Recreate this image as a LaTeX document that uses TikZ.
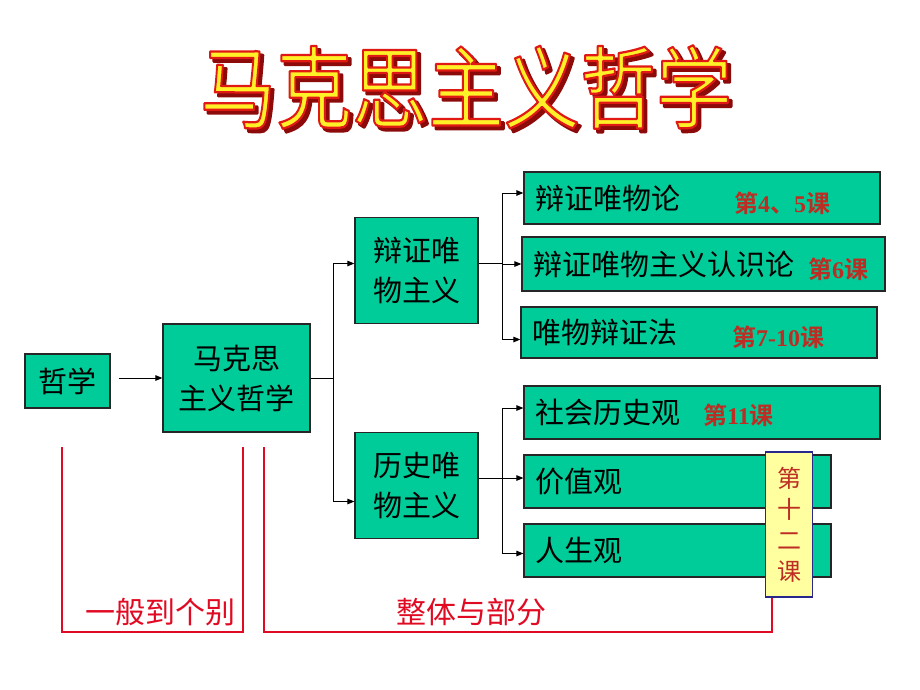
\documentclass[tikz,border=0pt]{standalone}
\usepackage{fontspec}
\newfontfamily\cjk{Noto Sans CJK SC}[BoldFont={Noto Sans CJK SC Bold}]
\newfontfamily\numfont{Liberation Serif}[BoldFont={Liberation Serif Bold}]
\usetikzlibrary{arrows.meta}

\definecolor{boxgreen}{RGB}{0,204,153}
\definecolor{lessonred}{RGB}{190,45,35}
\definecolor{bracketred}{RGB}{225,10,35}
\definecolor{notefill}{RGB}{255,255,160}
\definecolor{noteline}{RGB}{40,40,140}
\definecolor{titleshade}{RGB}{140,10,10}
\definecolor{titleyellow}{RGB}{255,240,40}

% stroked text: fill in the current colour, outline in the given rgb
\newcommand\strokedtext[3]{\special{pdf:literal direct 1 j 2 Tr #2 w #1 RG}#3\special{pdf:literal direct 0 Tr}}

\tikzset{
  box/.style={draw=black!85, line width=1.2pt, fill=boxgreen, inner sep=0pt,
              align=center, font=\cjk\fontsize{29}{40}\selectfont},
  leafbox/.style={box, align=left, inner xsep=11pt, minimum height=53pt},
  lesson/.style={anchor=west, inner sep=0pt, text=lessonred,
                 font=\cjk\bfseries\fontsize{24}{28}\selectfont},
  note/.style={draw=noteline, line width=1.2pt, fill=notefill, inner sep=0pt,
               align=center, text=lessonred, font=\cjk\fontsize{24}{31}\selectfont},
  conn/.style={-{Triangle[length=7pt,width=5.5pt]}, line width=1pt},
  trunk/.style={line width=1pt},
  bracket/.style={draw=bracketred, line width=1.8pt},
  bracketlabel/.style={text=bracketred, inner sep=0pt, font=\cjk\fontsize{30}{32}\selectfont},
  titletext/.style={inner sep=0pt, font=\cjk\fontsize{76}{80}\selectfont}
}

\begin{document}
\begin{tikzpicture}[x=1pt,y=-1pt]
\useasboundingbox (0,0) rectangle (920,690);

% title: dark shade below, yellow letters with red outline on top
\node[titletext, text=titleshade, xshift=3.5pt, yshift=-3.5pt] (titleshadow) at (466,87)
  {\scalebox{1}[1.18]{\strokedtext{0.55 0.04 0.04}{2.4}{马克思主义哲学}}};
\node[titletext, text=titleyellow] (title) at (466,87)
  {\scalebox{1}[1.18]{\strokedtext{0.88 0.1 0.08}{1.9}{马克思主义哲学}}};

% main chain
\node[box, minimum width=85pt, minimum height=54pt] (zx) at (67.5,381) {哲学};
\node[box, minimum width=147pt, minimum height=108pt] (mks) at (236.5,378) {马克思\\主义哲学};
\node[box, minimum width=123pt, minimum height=106pt] (bzwwzy) at (416.5,270.5) {辩证唯\\物主义};
\node[box, minimum width=123pt, minimum height=106pt] (lswwzy) at (416.5,485.5) {历史唯\\物主义};

% leaves
\node[leafbox, text width=334pt, minimum height=52pt] (bzwwl) at (702,198) {辩证唯物论};
\node[leafbox, text width=341pt, minimum height=54pt] (rsl) at (703.5,264) {辩证唯物主义认识论};
\node[leafbox, text width=334pt, minimum height=51pt] (wwbzf) at (699,332.5) {唯物辩证法};
\node[leafbox, text width=334pt] (shlsg) at (702,412.5) {社会历史观};
\node[leafbox, text width=285pt] (jzg) at (677.5,481.5) {价值观};
\node[leafbox, text width=285pt] (rsg) at (677.5,550.5) {人生观};

% lesson marks
\node[lesson] (k45) at (734,203) {第{\numfont 4}、{\numfont 5}课};
\node[lesson] (k6) at (808,269) {第{\numfont 6}课};
\node[lesson] (k710) at (732,337) {第{\numfont 7-10}课};
\node[lesson] (k11) at (703,415) {第{\numfont 11}课};
\node[note, minimum width=47pt, minimum height=145pt] (d12k) at (789,524.5) {第\\十\\二\\课};

% connectors
\coordinate (fork1) at (333,378);
\coordinate (fork2) at (502,263);
\coordinate (fork3) at (502,478);
\draw[conn] ([xshift=8pt]zx.east |- mks.west) -- (mks.west);
\draw[trunk] (mks.east) -- (fork1);
\draw[conn] (fork1) |- ([yshift=7pt]bzwwzy.west);
\draw[conn] (fork1) |- ([yshift=-16pt]lswwzy.west);
\draw[trunk] ([yshift=7.5pt]bzwwzy.east) -- (fork2);
\draw[conn] (fork2) |- ([yshift=5pt]bzwwl.west);
\draw[conn] (fork2) |- (rsl.west);
\draw[conn] (fork2) |- ([yshift=-7pt]wwbzf.west);
\draw[trunk] ([yshift=7.5pt]lswwzy.east) -- (fork3);
\draw[conn] (fork3) |- ([yshift=4.5pt]shlsg.west);
\draw[conn] (fork3) -- (fork3 -| jzg.west);
\draw[conn] (fork3) |- ([yshift=-3pt]rsg.west);

% brackets
\draw[bracket] (62,447) -- (62,632) -- (243,632) -- (243,447);
\draw[bracket] (264,447) -- (264,632) -| ([xshift=-17pt]d12k.south);
\node[bracketlabel] (ybdgb) at (160,612) {一般到个别};
\node[bracketlabel] (ztybf) at (471,612) {整体与部分};
\end{tikzpicture}
\end{document}
